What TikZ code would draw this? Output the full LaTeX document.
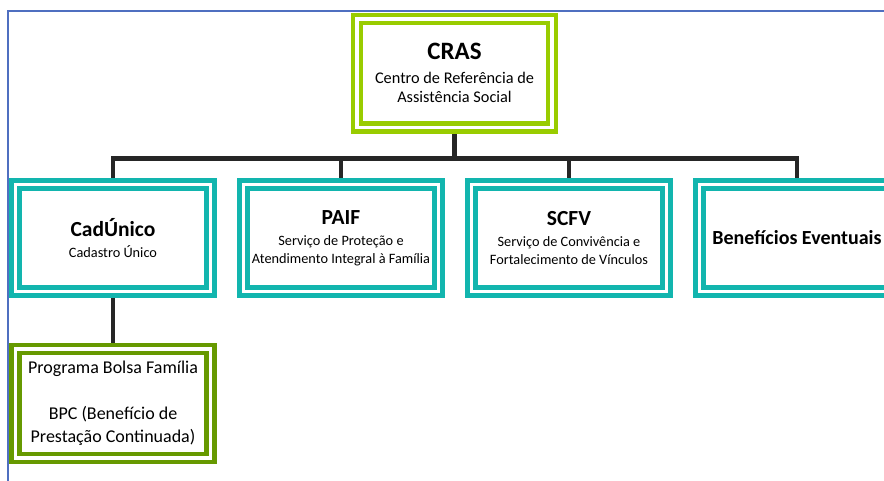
\documentclass[tikz,border=0pt]{standalone}
\usepackage{fontspec}
\setmainfont{Carlito}
\usetikzlibrary{backgrounds}

\begin{document}
\begin{tikzpicture}[x=1pt,y=-1pt,
  box/.style={draw=#1,line width=4.5pt,double=white,double distance=3.5pt,fill=white,
    minimum width=195pt,minimum height=107pt,align=center,inner sep=0pt},
  subtext/.style={font=\fontsize{14.3}{17.5}\selectfont},
  conn/.style={draw=lineColor,line width=4.5pt,line join=miter}]
\definecolor{crasColor}{RGB}{153,204,0}
\definecolor{boxColor}{RGB}{18,181,174}
\definecolor{pbfColor}{RGB}{102,153,0}
\definecolor{lineColor}{RGB}{38,38,38}
\definecolor{frameColor}{RGB}{79,111,192}

\useasboundingbox (0,0) rectangle (884,481);
\clip (0,0) rectangle (884,481);

\draw[frameColor,line width=2pt] (7.8,481) -- (7.8,11.3) -- (884,11.3);

\node[box=crasColor,minimum height=108.5pt,font=\fontsize{16.3}{19}\selectfont] (cras) at (454.5,73.2)
  {{\fontsize{25}{28}\selectfont\bfseries CRAS}\\[5pt]Centro de Referência de\\Assistência Social};

\node[box=boxColor,subtext] (cad) at (113,238)
  {{\fontsize{21.5}{24}\selectfont\bfseries CadÚnico}\\[4pt]Cadastro Único};
\node[box=boxColor,subtext] (paif) at (341,238)
  {{\fontsize{21.5}{24}\selectfont\bfseries PAIF}\\[4pt]Serviço de Proteção e\\Atendimento Integral à Família};
\node[box=boxColor,subtext] (scfv) at (569,238)
  {{\fontsize{21.5}{24}\selectfont\bfseries SCFV}\\[4pt]Serviço de Convivência e\\Fortalecimento de Vínculos};
\node[box=boxColor,subtext] (ben) at (797,238)
  {{\fontsize{20}{24}\selectfont\bfseries Benefícios Eventuais}};

\node[box=pbfColor,minimum height=109pt,font=\fontsize{18}{23}\selectfont] (pbf) at (113,403.5)
  {Programa Bolsa Família\\[23pt]BPC (Benefício de\\Prestação Continuada)};

\coordinate (bus) at (454.5,158.5);
\begin{scope}[on background layer]
\draw[conn] (cras.south) -- (bus);
\draw[conn] (cad.north) -- (cad.north |- bus) -- (ben.north |- bus) -- (ben.north);
\foreach \n in {paif,scfv}
  \draw[conn] (\n.north |- bus) -- (\n.north);
\draw[conn] (cad.south) -- (pbf.north);
\end{scope}
\end{tikzpicture}
\end{document}
